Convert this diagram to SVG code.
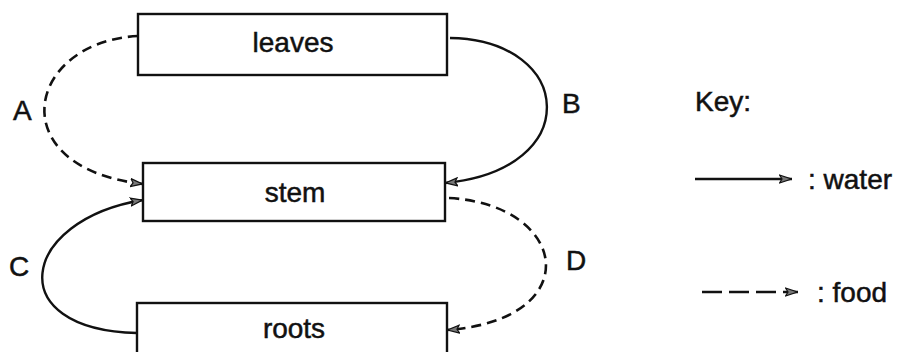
<svg xmlns="http://www.w3.org/2000/svg" width="903" height="352" viewBox="0 0 903 352">
<style>
.box{fill:#fff;stroke:#111;stroke-width:2.4}
.lbl{font-family:"Liberation Sans",Arial,sans-serif;font-size:28px;fill:#111;stroke:#111;stroke-width:0.5}
.mid{text-anchor:middle}
.water{fill:none;stroke:#111;stroke-width:2.4}
.food{fill:none;stroke:#111;stroke-width:2.6;stroke-dasharray:10 6}
.foodkey{fill:none;stroke:#111;stroke-width:2.4;stroke-dasharray:20 7}
</style>
<defs>
<marker id="ah" viewBox="0 0 13 10" refX="13" refY="5" markerWidth="13" markerHeight="10" markerUnits="userSpaceOnUse" orient="auto">
<path d="M0.5,1 L12.5,5 L0.5,9 L3,5 Z" fill="#777" stroke="#111" stroke-width="1.2"/>
</marker>
</defs>
<rect width="903" height="352" fill="#fff"/>
<g id="connectors">
<path id="A" class="food" d="M138,36 C25,42 0,168 143,184" marker-end="url(#ah)"/>
<path id="B" class="water" d="M450,38 C575,40 585,170 445,183" marker-end="url(#ah)"/>
<path id="C" class="water" d="M137,333 C0,330 20,220 143,200" marker-end="url(#ah)"/>
<path id="D" class="food" d="M449,198 C570,205 587,320 447,330" marker-end="url(#ah)"/>
<text class="lbl" x="13" y="120">A</text>
<text class="lbl" x="562" y="113">B</text>
<text class="lbl" x="9" y="276">C</text>
<text class="lbl" x="566" y="270">D</text>
</g>
<g id="leaves">
<rect class="box" x="138" y="14" width="309" height="61"/>
<text class="lbl mid" x="293" y="52">leaves</text>
</g>
<g id="stem">
<rect class="box" x="143" y="163" width="302" height="58"/>
<text class="lbl mid" x="295" y="202">stem</text>
</g>
<g id="roots">
<rect class="box" x="137" y="303" width="310" height="70"/>
<text class="lbl mid" x="294" y="338">roots</text>
</g>
<g id="key">
<text class="lbl" x="695" y="111">Key:</text>
<path class="water" d="M695,179 L792,179" marker-end="url(#ah)"/>
<text class="lbl" x="808" y="189">: water</text>
<path class="foodkey" d="M702,292 L798,292" marker-end="url(#ah)"/>
<text class="lbl" x="817" y="302">: food</text>
</g>
</svg>
